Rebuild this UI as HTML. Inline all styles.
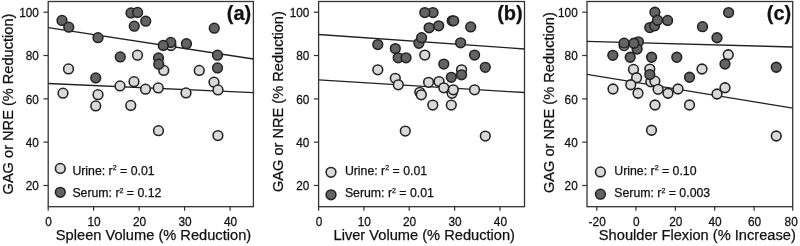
<!DOCTYPE html>
<html><head><meta charset="utf-8"><style>
html,body{margin:0;padding:0;background:#fff;}
body{width:800px;height:246px;overflow:hidden;font-family:"Liberation Sans",sans-serif;}
svg{display:block;filter:blur(0.3px);}
text{stroke:#111;stroke-width:0.25px;}
</style></head><body>
<svg width="800" height="246" viewBox="0 0 800 246" font-family="Liberation Sans, sans-serif">
<rect width="800" height="246" fill="#fff"/>
<rect x="48.2" y="1.5" width="205.20" height="205.20" fill="none" stroke="#333" stroke-width="1.3"/>
<line x1="43.40" y1="12.20" x2="48.2" y2="12.20" stroke="#333" stroke-width="1.2"/>
<text transform="translate(38.90,16.95) scale(1,1.09)" font-size="11.8" text-anchor="end" fill="#111">100</text>
<line x1="43.40" y1="55.52" x2="48.2" y2="55.52" stroke="#333" stroke-width="1.2"/>
<text transform="translate(38.90,60.27) scale(1,1.09)" font-size="11.8" text-anchor="end" fill="#111">80</text>
<line x1="43.40" y1="98.84" x2="48.2" y2="98.84" stroke="#333" stroke-width="1.2"/>
<text transform="translate(38.90,103.59) scale(1,1.09)" font-size="11.8" text-anchor="end" fill="#111">60</text>
<line x1="43.40" y1="142.16" x2="48.2" y2="142.16" stroke="#333" stroke-width="1.2"/>
<text transform="translate(38.90,146.91) scale(1,1.09)" font-size="11.8" text-anchor="end" fill="#111">40</text>
<line x1="43.40" y1="185.48" x2="48.2" y2="185.48" stroke="#333" stroke-width="1.2"/>
<text transform="translate(38.90,190.23) scale(1,1.09)" font-size="11.8" text-anchor="end" fill="#111">20</text>
<line x1="48.2" y1="206.7" x2="48.2" y2="210.7" stroke="#333" stroke-width="1.2"/>
<text transform="translate(48.60,226.00) scale(1,1.13)" font-size="11.9" text-anchor="middle" fill="#111">0</text>
<line x1="93.6" y1="206.7" x2="93.6" y2="210.7" stroke="#333" stroke-width="1.2"/>
<text transform="translate(94.00,226.00) scale(1,1.13)" font-size="11.9" text-anchor="middle" fill="#111">10</text>
<line x1="139.1" y1="206.7" x2="139.1" y2="210.7" stroke="#333" stroke-width="1.2"/>
<text transform="translate(139.50,226.00) scale(1,1.13)" font-size="11.9" text-anchor="middle" fill="#111">20</text>
<line x1="184.6" y1="206.7" x2="184.6" y2="210.7" stroke="#333" stroke-width="1.2"/>
<text transform="translate(185.00,226.00) scale(1,1.13)" font-size="11.9" text-anchor="middle" fill="#111">30</text>
<line x1="230.1" y1="206.7" x2="230.1" y2="210.7" stroke="#333" stroke-width="1.2"/>
<text transform="translate(230.50,226.00) scale(1,1.13)" font-size="11.9" text-anchor="middle" fill="#111">40</text>
<text x="153.5" y="240.1" font-size="14.65" text-anchor="middle" fill="#111">Spleen Volume (% Reduction)</text>
<text transform="translate(13.00,104.05) rotate(-90)" font-size="14.6" text-anchor="middle" fill="#111">GAG or NRE (% Reduction)</text>
<text x="251.20" y="19.7" font-size="20" font-weight="bold" text-anchor="end" fill="#111">(a)</text>
<circle cx="60.30" cy="168.4" r="4.87" fill="#d9d9d9" stroke="#222" stroke-width="1.55"/>
<circle cx="60.30" cy="192.3" r="4.87" fill="#636363" stroke="#222" stroke-width="1.55"/>
<text x="72.40" y="174.8" font-size="12.3" fill="#111">Urine: r<tspan font-size="7" dy="-4.6">2</tspan><tspan dy="4.6"> = 0.01</tspan></text>
<text x="72.40" y="197.3" font-size="12.3" fill="#111">Serum: r<tspan font-size="7" dy="-4.6">2</tspan><tspan dy="4.6"> = 0.12</tspan></text>
<rect x="318.6" y="1.5" width="205.90" height="205.20" fill="none" stroke="#333" stroke-width="1.3"/>
<line x1="313.80" y1="12.20" x2="318.6" y2="12.20" stroke="#333" stroke-width="1.2"/>
<text transform="translate(309.30,16.95) scale(1,1.09)" font-size="11.8" text-anchor="end" fill="#111">100</text>
<line x1="313.80" y1="55.52" x2="318.6" y2="55.52" stroke="#333" stroke-width="1.2"/>
<text transform="translate(309.30,60.27) scale(1,1.09)" font-size="11.8" text-anchor="end" fill="#111">80</text>
<line x1="313.80" y1="98.84" x2="318.6" y2="98.84" stroke="#333" stroke-width="1.2"/>
<text transform="translate(309.30,103.59) scale(1,1.09)" font-size="11.8" text-anchor="end" fill="#111">60</text>
<line x1="313.80" y1="142.16" x2="318.6" y2="142.16" stroke="#333" stroke-width="1.2"/>
<text transform="translate(309.30,146.91) scale(1,1.09)" font-size="11.8" text-anchor="end" fill="#111">40</text>
<line x1="313.80" y1="185.48" x2="318.6" y2="185.48" stroke="#333" stroke-width="1.2"/>
<text transform="translate(309.30,190.23) scale(1,1.09)" font-size="11.8" text-anchor="end" fill="#111">20</text>
<line x1="318.6" y1="206.7" x2="318.6" y2="210.7" stroke="#333" stroke-width="1.2"/>
<text transform="translate(319.00,226.00) scale(1,1.13)" font-size="11.9" text-anchor="middle" fill="#111">0</text>
<line x1="363.9" y1="206.7" x2="363.9" y2="210.7" stroke="#333" stroke-width="1.2"/>
<text transform="translate(364.30,226.00) scale(1,1.13)" font-size="11.9" text-anchor="middle" fill="#111">10</text>
<line x1="409.2" y1="206.7" x2="409.2" y2="210.7" stroke="#333" stroke-width="1.2"/>
<text transform="translate(409.60,226.00) scale(1,1.13)" font-size="11.9" text-anchor="middle" fill="#111">20</text>
<line x1="454.6" y1="206.7" x2="454.6" y2="210.7" stroke="#333" stroke-width="1.2"/>
<text transform="translate(455.00,226.00) scale(1,1.13)" font-size="11.9" text-anchor="middle" fill="#111">30</text>
<line x1="500.0" y1="206.7" x2="500.0" y2="210.7" stroke="#333" stroke-width="1.2"/>
<text transform="translate(500.40,226.00) scale(1,1.13)" font-size="11.9" text-anchor="middle" fill="#111">40</text>
<text x="424.25" y="240.1" font-size="14.65" text-anchor="middle" fill="#111">Liver Volume (% Reduction)</text>
<text transform="translate(283.10,101.60) rotate(-90)" font-size="14.6" text-anchor="middle" fill="#111">GAG or NRE (% Reduction)</text>
<text x="522.70" y="19.7" font-size="20" font-weight="bold" text-anchor="end" fill="#111">(b)</text>
<circle cx="331.00" cy="172.3" r="4.87" fill="#d9d9d9" stroke="#222" stroke-width="1.55"/>
<circle cx="331.00" cy="194.8" r="4.87" fill="#636363" stroke="#222" stroke-width="1.55"/>
<text x="344.90" y="174.8" font-size="12.3" fill="#111">Urine: r<tspan font-size="7" dy="-4.6">2</tspan><tspan dy="4.6"> = 0.01</tspan></text>
<text x="344.90" y="197.3" font-size="12.3" fill="#111">Serum: r<tspan font-size="7" dy="-4.6">2</tspan><tspan dy="4.6"> = 0.01</tspan></text>
<rect x="587.0" y="1.5" width="205.70" height="205.20" fill="none" stroke="#333" stroke-width="1.3"/>
<line x1="582.20" y1="12.20" x2="587.0" y2="12.20" stroke="#333" stroke-width="1.2"/>
<text transform="translate(577.70,16.95) scale(1,1.09)" font-size="11.8" text-anchor="end" fill="#111">100</text>
<line x1="582.20" y1="55.52" x2="587.0" y2="55.52" stroke="#333" stroke-width="1.2"/>
<text transform="translate(577.70,60.27) scale(1,1.09)" font-size="11.8" text-anchor="end" fill="#111">80</text>
<line x1="582.20" y1="98.84" x2="587.0" y2="98.84" stroke="#333" stroke-width="1.2"/>
<text transform="translate(577.70,103.59) scale(1,1.09)" font-size="11.8" text-anchor="end" fill="#111">60</text>
<line x1="582.20" y1="142.16" x2="587.0" y2="142.16" stroke="#333" stroke-width="1.2"/>
<text transform="translate(577.70,146.91) scale(1,1.09)" font-size="11.8" text-anchor="end" fill="#111">40</text>
<line x1="582.20" y1="185.48" x2="587.0" y2="185.48" stroke="#333" stroke-width="1.2"/>
<text transform="translate(577.70,190.23) scale(1,1.09)" font-size="11.8" text-anchor="end" fill="#111">20</text>
<line x1="596.8" y1="206.7" x2="596.8" y2="210.7" stroke="#333" stroke-width="1.2"/>
<text transform="translate(597.20,226.00) scale(1,1.13)" font-size="11.9" text-anchor="middle" fill="#111">-20</text>
<line x1="635.9" y1="206.7" x2="635.9" y2="210.7" stroke="#333" stroke-width="1.2"/>
<text transform="translate(636.30,226.00) scale(1,1.13)" font-size="11.9" text-anchor="middle" fill="#111">0</text>
<line x1="675.4" y1="206.7" x2="675.4" y2="210.7" stroke="#333" stroke-width="1.2"/>
<text transform="translate(675.80,226.00) scale(1,1.13)" font-size="11.9" text-anchor="middle" fill="#111">20</text>
<line x1="714.7" y1="206.7" x2="714.7" y2="210.7" stroke="#333" stroke-width="1.2"/>
<text transform="translate(715.10,226.00) scale(1,1.13)" font-size="11.9" text-anchor="middle" fill="#111">40</text>
<line x1="754.1" y1="206.7" x2="754.1" y2="210.7" stroke="#333" stroke-width="1.2"/>
<text transform="translate(754.50,226.00) scale(1,1.13)" font-size="11.9" text-anchor="middle" fill="#111">60</text>
<line x1="792.7" y1="206.7" x2="792.7" y2="210.7" stroke="#333" stroke-width="1.2"/>
<text transform="translate(791.20,226.00) scale(1,1.13)" font-size="11.9" text-anchor="middle" fill="#111">80</text>
<text x="697.3" y="240.1" font-size="14.65" text-anchor="middle" fill="#111">Shoulder Flexion (% Increase)</text>
<text transform="translate(554.40,102.60) rotate(-90)" font-size="14.6" text-anchor="middle" fill="#111">GAG or NRE (% Reduction)</text>
<text x="791.20" y="19.7" font-size="20" font-weight="bold" text-anchor="end" fill="#111">(c)</text>
<circle cx="600.40" cy="171.9" r="4.87" fill="#d9d9d9" stroke="#222" stroke-width="1.55"/>
<circle cx="600.40" cy="194.2" r="4.87" fill="#636363" stroke="#222" stroke-width="1.55"/>
<text x="614.30" y="174.8" font-size="12.3" fill="#111">Urine: r<tspan font-size="7" dy="-4.6">2</tspan><tspan dy="4.6"> = 0.10</tspan></text>
<text x="614.30" y="197.3" font-size="12.3" fill="#111">Serum: r<tspan font-size="7" dy="-4.6">2</tspan><tspan dy="4.6"> = 0.003</tspan></text>
<clipPath id="c0"><rect x="48.2" y="1.5" width="205.20" height="205.20"/></clipPath>
<line x1="48.2" y1="27.7" x2="253.4" y2="59.0" stroke="#222" stroke-width="1.3" clip-path="url(#c0)"/>
<line x1="48.2" y1="83.5" x2="253.4" y2="92.6" stroke="#222" stroke-width="1.3" clip-path="url(#c0)"/>
<clipPath id="c1"><rect x="318.6" y="1.5" width="205.90" height="205.20"/></clipPath>
<line x1="318.6" y1="34.5" x2="524.5" y2="49.0" stroke="#222" stroke-width="1.3" clip-path="url(#c1)"/>
<line x1="318.6" y1="79.9" x2="524.5" y2="92.5" stroke="#222" stroke-width="1.3" clip-path="url(#c1)"/>
<clipPath id="c2"><rect x="587.0" y="1.5" width="205.70" height="205.20"/></clipPath>
<line x1="587.0" y1="41.4" x2="792.7" y2="47.0" stroke="#222" stroke-width="1.3" clip-path="url(#c2)"/>
<line x1="587.0" y1="74.3" x2="792.7" y2="108.1" stroke="#222" stroke-width="1.3" clip-path="url(#c2)"/>
<circle cx="170.90" cy="45.50" r="4.87" fill="#d9d9d9" stroke="#222" stroke-width="1.55"/>
<circle cx="137.50" cy="55.15" r="4.87" fill="#d9d9d9" stroke="#222" stroke-width="1.55"/>
<circle cx="163.75" cy="70.40" r="4.87" fill="#d9d9d9" stroke="#222" stroke-width="1.55"/>
<circle cx="199.25" cy="70.40" r="4.87" fill="#d9d9d9" stroke="#222" stroke-width="1.55"/>
<circle cx="68.50" cy="68.90" r="4.87" fill="#d9d9d9" stroke="#222" stroke-width="1.55"/>
<circle cx="120.00" cy="85.90" r="4.87" fill="#d9d9d9" stroke="#222" stroke-width="1.55"/>
<circle cx="134.00" cy="81.65" r="4.87" fill="#d9d9d9" stroke="#222" stroke-width="1.55"/>
<circle cx="145.50" cy="89.15" r="4.87" fill="#d9d9d9" stroke="#222" stroke-width="1.55"/>
<circle cx="158.25" cy="87.90" r="4.87" fill="#d9d9d9" stroke="#222" stroke-width="1.55"/>
<circle cx="186.00" cy="92.90" r="4.87" fill="#d9d9d9" stroke="#222" stroke-width="1.55"/>
<circle cx="214.00" cy="82.15" r="4.87" fill="#d9d9d9" stroke="#222" stroke-width="1.55"/>
<circle cx="218.00" cy="89.90" r="4.87" fill="#d9d9d9" stroke="#222" stroke-width="1.55"/>
<circle cx="63.00" cy="93.15" r="4.87" fill="#d9d9d9" stroke="#222" stroke-width="1.55"/>
<circle cx="98.00" cy="94.65" r="4.87" fill="#d9d9d9" stroke="#222" stroke-width="1.55"/>
<circle cx="95.75" cy="105.90" r="4.87" fill="#d9d9d9" stroke="#222" stroke-width="1.55"/>
<circle cx="130.75" cy="105.40" r="4.87" fill="#d9d9d9" stroke="#222" stroke-width="1.55"/>
<circle cx="158.50" cy="130.65" r="4.87" fill="#d9d9d9" stroke="#222" stroke-width="1.55"/>
<circle cx="217.90" cy="135.60" r="4.87" fill="#d9d9d9" stroke="#222" stroke-width="1.55"/>
<circle cx="424.80" cy="55.05" r="4.87" fill="#d9d9d9" stroke="#222" stroke-width="1.55"/>
<circle cx="461.55" cy="69.80" r="4.87" fill="#d9d9d9" stroke="#222" stroke-width="1.55"/>
<circle cx="377.80" cy="69.80" r="4.87" fill="#d9d9d9" stroke="#222" stroke-width="1.55"/>
<circle cx="395.30" cy="78.30" r="4.87" fill="#d9d9d9" stroke="#222" stroke-width="1.55"/>
<circle cx="398.30" cy="84.80" r="4.87" fill="#d9d9d9" stroke="#222" stroke-width="1.55"/>
<circle cx="428.55" cy="82.30" r="4.87" fill="#d9d9d9" stroke="#222" stroke-width="1.55"/>
<circle cx="439.05" cy="81.55" r="4.87" fill="#d9d9d9" stroke="#222" stroke-width="1.55"/>
<circle cx="443.80" cy="87.80" r="4.87" fill="#d9d9d9" stroke="#222" stroke-width="1.55"/>
<circle cx="452.05" cy="93.30" r="4.87" fill="#d9d9d9" stroke="#222" stroke-width="1.55"/>
<circle cx="453.30" cy="89.80" r="4.87" fill="#d9d9d9" stroke="#222" stroke-width="1.55"/>
<circle cx="474.55" cy="89.80" r="4.87" fill="#d9d9d9" stroke="#222" stroke-width="1.55"/>
<circle cx="419.80" cy="92.30" r="4.87" fill="#d9d9d9" stroke="#222" stroke-width="1.55"/>
<circle cx="421.30" cy="94.80" r="4.87" fill="#d9d9d9" stroke="#222" stroke-width="1.55"/>
<circle cx="432.80" cy="105.05" r="4.87" fill="#d9d9d9" stroke="#222" stroke-width="1.55"/>
<circle cx="451.30" cy="105.05" r="4.87" fill="#d9d9d9" stroke="#222" stroke-width="1.55"/>
<circle cx="405.30" cy="131.05" r="4.87" fill="#d9d9d9" stroke="#222" stroke-width="1.55"/>
<circle cx="485.30" cy="136.05" r="4.87" fill="#d9d9d9" stroke="#222" stroke-width="1.55"/>
<circle cx="624.10" cy="45.55" r="4.87" fill="#d9d9d9" stroke="#222" stroke-width="1.55"/>
<circle cx="728.25" cy="54.75" r="4.87" fill="#d9d9d9" stroke="#222" stroke-width="1.55"/>
<circle cx="633.50" cy="69.45" r="4.87" fill="#d9d9d9" stroke="#222" stroke-width="1.55"/>
<circle cx="649.80" cy="69.05" r="4.87" fill="#d9d9d9" stroke="#222" stroke-width="1.55"/>
<circle cx="702.00" cy="69.00" r="4.87" fill="#d9d9d9" stroke="#222" stroke-width="1.55"/>
<circle cx="636.60" cy="77.75" r="4.87" fill="#d9d9d9" stroke="#222" stroke-width="1.55"/>
<circle cx="630.75" cy="84.75" r="4.87" fill="#d9d9d9" stroke="#222" stroke-width="1.55"/>
<circle cx="650.80" cy="81.85" r="4.87" fill="#d9d9d9" stroke="#222" stroke-width="1.55"/>
<circle cx="654.90" cy="81.15" r="4.87" fill="#d9d9d9" stroke="#222" stroke-width="1.55"/>
<circle cx="613.00" cy="89.00" r="4.87" fill="#d9d9d9" stroke="#222" stroke-width="1.55"/>
<circle cx="638.00" cy="93.25" r="4.87" fill="#d9d9d9" stroke="#222" stroke-width="1.55"/>
<circle cx="658.10" cy="89.35" r="4.87" fill="#d9d9d9" stroke="#222" stroke-width="1.55"/>
<circle cx="668.00" cy="93.25" r="4.87" fill="#d9d9d9" stroke="#222" stroke-width="1.55"/>
<circle cx="678.00" cy="89.00" r="4.87" fill="#d9d9d9" stroke="#222" stroke-width="1.55"/>
<circle cx="717.00" cy="94.00" r="4.87" fill="#d9d9d9" stroke="#222" stroke-width="1.55"/>
<circle cx="725.00" cy="87.75" r="4.87" fill="#d9d9d9" stroke="#222" stroke-width="1.55"/>
<circle cx="655.00" cy="105.00" r="4.87" fill="#d9d9d9" stroke="#222" stroke-width="1.55"/>
<circle cx="689.50" cy="105.00" r="4.87" fill="#d9d9d9" stroke="#222" stroke-width="1.55"/>
<circle cx="651.50" cy="130.25" r="4.87" fill="#d9d9d9" stroke="#222" stroke-width="1.55"/>
<circle cx="776.25" cy="136.00" r="4.87" fill="#d9d9d9" stroke="#222" stroke-width="1.55"/>
<circle cx="62.00" cy="20.40" r="4.87" fill="#636363" stroke="#222" stroke-width="1.55"/>
<circle cx="68.75" cy="27.15" r="4.87" fill="#636363" stroke="#222" stroke-width="1.55"/>
<circle cx="98.00" cy="37.65" r="4.87" fill="#636363" stroke="#222" stroke-width="1.55"/>
<circle cx="131.00" cy="12.90" r="4.87" fill="#636363" stroke="#222" stroke-width="1.55"/>
<circle cx="137.60" cy="12.40" r="4.87" fill="#636363" stroke="#222" stroke-width="1.55"/>
<circle cx="145.75" cy="21.15" r="4.87" fill="#636363" stroke="#222" stroke-width="1.55"/>
<circle cx="134.25" cy="26.15" r="4.87" fill="#636363" stroke="#222" stroke-width="1.55"/>
<circle cx="170.75" cy="42.40" r="4.87" fill="#636363" stroke="#222" stroke-width="1.55"/>
<circle cx="163.25" cy="45.40" r="4.87" fill="#636363" stroke="#222" stroke-width="1.55"/>
<circle cx="186.45" cy="43.65" r="4.87" fill="#636363" stroke="#222" stroke-width="1.55"/>
<circle cx="214.25" cy="28.15" r="4.87" fill="#636363" stroke="#222" stroke-width="1.55"/>
<circle cx="217.50" cy="55.15" r="4.87" fill="#636363" stroke="#222" stroke-width="1.55"/>
<circle cx="217.50" cy="67.90" r="4.87" fill="#636363" stroke="#222" stroke-width="1.55"/>
<circle cx="120.25" cy="56.90" r="4.87" fill="#636363" stroke="#222" stroke-width="1.55"/>
<circle cx="158.50" cy="57.90" r="4.87" fill="#636363" stroke="#222" stroke-width="1.55"/>
<circle cx="158.75" cy="64.15" r="4.87" fill="#636363" stroke="#222" stroke-width="1.55"/>
<circle cx="95.75" cy="77.90" r="4.87" fill="#636363" stroke="#222" stroke-width="1.55"/>
<circle cx="377.80" cy="44.55" r="4.87" fill="#636363" stroke="#222" stroke-width="1.55"/>
<circle cx="395.30" cy="48.55" r="4.87" fill="#636363" stroke="#222" stroke-width="1.55"/>
<circle cx="398.20" cy="57.80" r="4.87" fill="#636363" stroke="#222" stroke-width="1.55"/>
<circle cx="406.00" cy="57.80" r="4.87" fill="#636363" stroke="#222" stroke-width="1.55"/>
<circle cx="433.00" cy="12.60" r="4.87" fill="#636363" stroke="#222" stroke-width="1.55"/>
<circle cx="424.80" cy="12.60" r="4.87" fill="#636363" stroke="#222" stroke-width="1.55"/>
<circle cx="429.10" cy="27.80" r="4.87" fill="#636363" stroke="#222" stroke-width="1.55"/>
<circle cx="438.70" cy="25.80" r="4.87" fill="#636363" stroke="#222" stroke-width="1.55"/>
<circle cx="418.90" cy="43.30" r="4.87" fill="#636363" stroke="#222" stroke-width="1.55"/>
<circle cx="421.60" cy="37.70" r="4.87" fill="#636363" stroke="#222" stroke-width="1.55"/>
<circle cx="452.20" cy="20.80" r="4.87" fill="#636363" stroke="#222" stroke-width="1.55"/>
<circle cx="453.70" cy="20.80" r="4.87" fill="#636363" stroke="#222" stroke-width="1.55"/>
<circle cx="470.70" cy="26.90" r="4.87" fill="#636363" stroke="#222" stroke-width="1.55"/>
<circle cx="460.60" cy="42.80" r="4.87" fill="#636363" stroke="#222" stroke-width="1.55"/>
<circle cx="474.55" cy="55.05" r="4.87" fill="#636363" stroke="#222" stroke-width="1.55"/>
<circle cx="443.80" cy="64.05" r="4.87" fill="#636363" stroke="#222" stroke-width="1.55"/>
<circle cx="485.30" cy="67.30" r="4.87" fill="#636363" stroke="#222" stroke-width="1.55"/>
<circle cx="461.55" cy="74.80" r="4.87" fill="#636363" stroke="#222" stroke-width="1.55"/>
<circle cx="451.30" cy="77.30" r="4.87" fill="#636363" stroke="#222" stroke-width="1.55"/>
<circle cx="654.90" cy="12.25" r="4.87" fill="#636363" stroke="#222" stroke-width="1.55"/>
<circle cx="649.80" cy="27.55" r="4.87" fill="#636363" stroke="#222" stroke-width="1.55"/>
<circle cx="654.60" cy="25.85" r="4.87" fill="#636363" stroke="#222" stroke-width="1.55"/>
<circle cx="667.60" cy="20.45" r="4.87" fill="#636363" stroke="#222" stroke-width="1.55"/>
<circle cx="657.50" cy="20.25" r="4.87" fill="#636363" stroke="#222" stroke-width="1.55"/>
<circle cx="702.50" cy="26.65" r="4.87" fill="#636363" stroke="#222" stroke-width="1.55"/>
<circle cx="728.60" cy="12.55" r="4.87" fill="#636363" stroke="#222" stroke-width="1.55"/>
<circle cx="717.00" cy="37.75" r="4.87" fill="#636363" stroke="#222" stroke-width="1.55"/>
<circle cx="624.10" cy="43.15" r="4.87" fill="#636363" stroke="#222" stroke-width="1.55"/>
<circle cx="638.40" cy="41.85" r="4.87" fill="#636363" stroke="#222" stroke-width="1.55"/>
<circle cx="637.10" cy="49.05" r="4.87" fill="#636363" stroke="#222" stroke-width="1.55"/>
<circle cx="633.90" cy="43.25" r="4.87" fill="#636363" stroke="#222" stroke-width="1.55"/>
<circle cx="612.80" cy="55.35" r="4.87" fill="#636363" stroke="#222" stroke-width="1.55"/>
<circle cx="630.20" cy="57.25" r="4.87" fill="#636363" stroke="#222" stroke-width="1.55"/>
<circle cx="651.60" cy="57.25" r="4.87" fill="#636363" stroke="#222" stroke-width="1.55"/>
<circle cx="676.80" cy="57.25" r="4.87" fill="#636363" stroke="#222" stroke-width="1.55"/>
<circle cx="725.00" cy="64.00" r="4.87" fill="#636363" stroke="#222" stroke-width="1.55"/>
<circle cx="776.25" cy="67.25" r="4.87" fill="#636363" stroke="#222" stroke-width="1.55"/>
<circle cx="649.80" cy="74.55" r="4.87" fill="#636363" stroke="#222" stroke-width="1.55"/>
<circle cx="689.50" cy="77.25" r="4.87" fill="#636363" stroke="#222" stroke-width="1.55"/>
</svg>
</body></html>
